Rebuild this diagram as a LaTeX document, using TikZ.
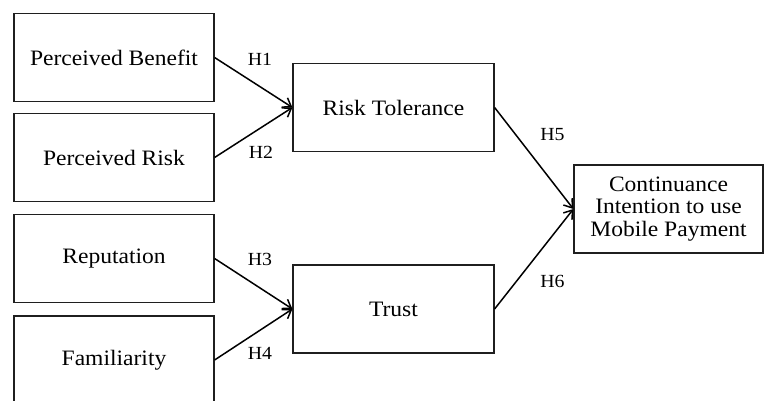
\documentclass[tikz,border=0pt]{standalone}
\usepackage{fontspec}
\setmainfont[FakeStretch=1.07]{Liberation Serif}
\usetikzlibrary{arrows.meta}
\definecolor{LineClr}{rgb}{0.12,0.12,0.12}

\begin{document}
\begin{tikzpicture}[x=1pt,y=-1pt,
  box/.style={draw=LineClr,line width=1.2pt,minimum width=200pt,minimum height=88pt,inner sep=0pt,align=center,font=\fontsize{22}{22.5}\selectfont},
  hyp/.style={inner sep=0pt,font=\fontsize{18.5}{20}\selectfont},
  link/.style={line width=1.5pt,-{Straight Barb[length=8pt,width=11pt]}}]
\path[use as bounding box,clip] (0,0) rectangle (764,401);

\node[box] (PB) at (114,57.5) {Perceived Benefit};
\node[box] (PR) at (114,157.5) {Perceived Risk};
\node[box] (Rep) at (114,258.5) {Reputation};
\node[box] (Fam) at (114,360) {Familiarity};

\node[box,minimum width=201pt] (RT) at (393.5,107.5) {Risk Tolerance};
\node[box,minimum width=201pt] (Tr) at (393.5,309) {Trust};

\node[box,minimum width=189pt] (CI) at (668.5,209) {Continuance\\Intention to use\\Mobile Payment};

\draw[link] (PB.east) -- (RT.west);
\draw[link] (PR.east) -- (RT.west);
\draw[link] (Rep.east) -- (Tr.west);
\draw[link] (Fam.east) -- (Tr.west);
\draw[link] (RT.east) -- (CI.west);
\draw[link] (Tr.east) -- (CI.west);

\node[hyp] (H1) at (260,59.5) {H1};
\node[hyp] (H2) at (261,152.5) {H2};
\node[hyp] (H3) at (260,259.5) {H3};
\node[hyp] (H4) at (260,353) {H4};
\node[hyp] (H5) at (552.5,134.5) {H5};
\node[hyp] (H6) at (552.5,281) {H6};

\end{tikzpicture}
\end{document}
